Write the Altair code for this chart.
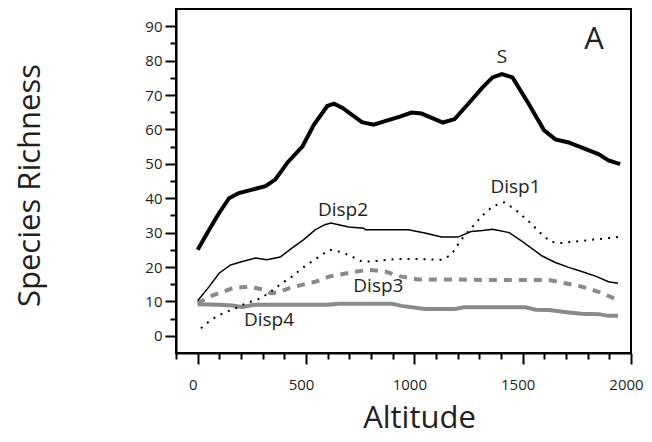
import altair as alt
import pandas as pd

# ---- data ----
s_x = [0, 53, 99, 145, 190, 252, 313, 358, 415, 484, 537, 598, 629, 667, 758, 812, 880, 934,
       987, 1033, 1132, 1186, 1247, 1315, 1361, 1404, 1453, 1529, 1598, 1651, 1712, 1773, 1850, 1896, 1950]
s_y = [25, 30.8, 35.7, 40, 41.5, 42.5, 43.5, 45.4, 50.4, 55.1, 61.4, 66.8, 67.5, 66.3, 62.1, 61.4, 62.7, 63.7,
       64.9, 64.6, 62, 63, 67.3, 72.2, 75.1, 76.1, 75.1, 67.3, 59.8, 57.1, 56.2, 54.7, 52.8, 51, 49.9]

d2_x = [0, 53, 99, 152, 206, 267, 320, 381, 435, 488, 542, 587, 615, 697, 766, 775, 972, 1049, 1125,
        1201, 1262, 1315, 1361, 1438, 1499, 1590, 1651, 1712, 1773, 1842, 1896, 1940]
d2_y = [10.2, 14.3, 18.2, 20.6, 21.6, 22.6, 22.1, 22.9, 25.5, 27.9, 30.8, 32.3, 32.8, 31.6, 31.3, 30.8, 30.8, 29.9, 28.7,
        28.7, 30.3, 30.6, 31, 30, 27.4, 23.2, 21.3, 19.9, 18.7, 17.2, 15.7, 15.3]

d1_x = [15, 61, 114, 175, 221, 290, 328, 389, 435, 481, 527, 572, 610, 650, 697, 758, 804, 911, 1033,
        1125, 1170, 1216, 1270, 1315, 1361, 1415, 1468, 1529, 1582, 1628, 1667, 1743, 1819, 1896, 1940]
d1_y = [2.2, 4.6, 6.5, 8, 9.4, 10.9, 12.4, 15.3, 17.2, 19.6, 21.6, 23.5, 25, 24.5, 23.5, 21.6, 21.6, 22.3, 22.3,
        22.1, 23.5, 27.9, 31.8, 35, 37.6, 38.8, 36.6, 33.2, 29.9, 27.4, 26.9, 27.4, 27.9, 28.4, 28.7]

d3_x = [0, 53, 99, 160, 236, 298, 336, 366, 420, 481, 542, 606, 697, 789, 865, 941, 1018, 1140,
        1346, 1621, 1697, 1773, 1850, 1940]
d3_y = [9.4, 11.4, 12.4, 13.8, 14.3, 13.5, 12.4, 12.5, 13.8, 14.8, 15.7, 17.2, 18.3, 19.2, 18.7, 17.2, 16.4, 16.4,
        16.2, 16.2, 15.3, 14.3, 12.8, 10.4]

d4_x = [0, 100, 160, 206, 260, 400, 600, 652, 896, 941, 1049, 1186, 1232, 1514, 1560, 1621, 1712,
        1773, 1850, 1896, 1940]
d4_y = [9.2, 9.0, 8.8, 8.4, 9.0, 9.0, 9.0, 9.3, 9.3, 8.7, 7.8, 7.8, 8.3, 8.3, 7.6, 7.5, 6.8,
        6.4, 6.3, 5.8, 5.8]

label_text = ["S", "Disp1", "Disp2", "Disp3", "Disp4"]
label_x = [1404, 1467, 671, 834, 329]
label_y = [81.0, 43.3, 36.6, 14.5, 4.6]

panel_text = ["A"]
panel_x = [1830]
panel_y = [86.0]

x_ticks = list(range(-100, 2001, 100))
y_ticks = list(range(0, 91, 5))


def frame(name, xs, ys):
    return pd.DataFrame({"altitude": xs, "richness": ys, "series": name})


df = pd.concat([
    frame("S", s_x, s_y),
    frame("Disp1", d1_x, d1_y),
    frame("Disp2", d2_x, d2_y),
    frame("Disp3", d3_x, d3_y),
    frame("Disp4", d4_x, d4_y),
], ignore_index=True)

labels = pd.DataFrame({"altitude": label_x, "richness": label_y, "label": label_text})
panel = pd.DataFrame({"altitude": panel_x, "richness": panel_y, "label": panel_text})

FONT = "Open Sans"
TXT = "#231f20"
GRAY = "#8a8a8a"

xscale = alt.Scale(domain=[-100, 2000], nice=False, zero=False)
yscale = alt.Scale(domain=[-5, 95], nice=False, zero=False)

xaxis = alt.Axis(
    values=x_ticks, format="d", title="Altitude",
    labelExpr="datum.value % 500 === 0 ? datum.label : ''",
    tickSize={"condition": {"test": "datum.value % 500 === 0", "value": 11}, "value": 6},
    labelPadding=13, labelFlush=False, labelOffset=-5,
    titleX=243, titleY=65, titleAlign="center", titleBaseline="middle",
)
yaxis = alt.Axis(
    values=y_ticks, format="d", title="Species Richness",
    labelExpr="datum.value % 10 === 0 ? datum.label : ''",
    tickSize={"condition": {"test": "datum.value % 10 === 0", "value": 11}, "value": 6},
    labelPadding=3, labelFlush=False,
    titleX=-146, titleY=176, titleAngle=-90, titleAlign="center", titleBaseline="middle",
)

X = alt.X("altitude:Q", scale=xscale, axis=xaxis)
Y = alt.Y("richness:Q", scale=yscale, axis=yaxis)

base = alt.Chart(df).encode(x=X, y=Y)


def series(name):
    return base.transform_filter(alt.datum.series == name)


l4 = series("Disp4").mark_line(color=GRAY, strokeWidth=4)
l3 = series("Disp3").mark_line(color=GRAY, strokeWidth=4, strokeDash=[8, 7])
l1 = series("Disp1").mark_line(color="black", strokeWidth=2, strokeDash=[2, 6])
l2 = series("Disp2").mark_line(color="black", strokeWidth=1.5)
ls = series("S").mark_line(color="black", strokeWidth=4)

txt = alt.Chart(labels).mark_text(font=FONT, fontSize=19, color=TXT, align="center", baseline="middle").encode(
    x=X, y=Y, text="label:N")
ptxt = alt.Chart(panel).mark_text(font=FONT, fontSize=31, color=TXT, align="center", baseline="middle").encode(
    x=X, y=Y, text="label:N")

chart = alt.layer(l4, l3, l1, l2, ls, txt, ptxt).properties(
    width=455, height=344,
    autosize=alt.AutoSizeParams(type="none"),
    padding={"left": 168, "top": 1, "right": 13, "bottom": 81},
).configure_view(
    stroke="black", strokeWidth=2
).configure_axis(
    grid=False,
    domainColor="black", domainWidth=2,
    tickColor="black", tickWidth=2,
    labelFont=FONT, labelFontSize=15, labelColor=TXT,
    titleFont=FONT, titleFontSize=31, titleFontWeight="normal", titleColor=TXT,
)

chart.save("out.html", embed_options={"renderer": "svg", "actions": False})
